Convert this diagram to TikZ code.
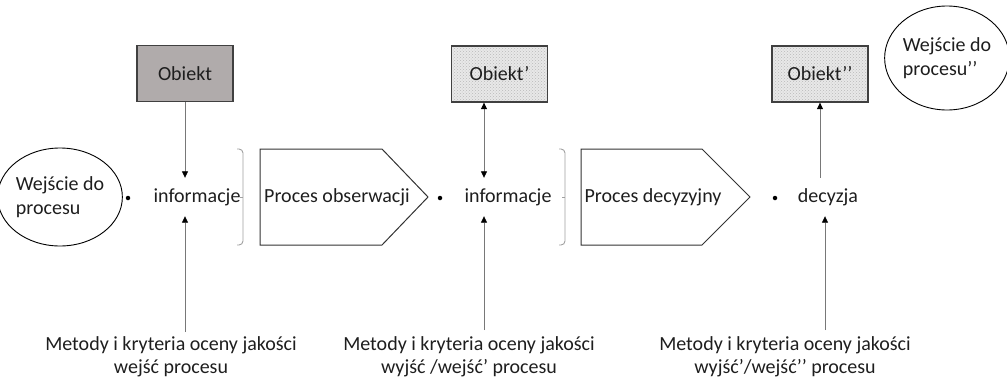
\documentclass[tikz,border=0pt]{standalone}
\usepackage{fontspec}
\setmainfont{Carlito}
\usetikzlibrary{arrows.meta,patterns,shapes.geometric}
\definecolor{objgray}{RGB}{176,171,171}
\definecolor{linegray}{RGB}{120,120,120}
\definecolor{brgray}{RGB}{160,160,160}
\definecolor{txtc}{RGB}{30,30,30}
\begin{document}
\begin{tikzpicture}[x=1pt,y=-1pt,
  mytip/.tip={Triangle[length=6.5pt,width=6pt,color=black]},
  txt/.style={font=\fontsize{20}{23.5}\selectfont, text=txtc, inner sep=0pt},
  objbox/.style={txt, draw=black!75, line width=1.3pt, minimum width=96pt, minimum height=56pt},
  stipple/.style={preaction={fill=gray!18}, pattern=crosshatch dots, pattern color=gray!55},
  infnode/.style={txt, minimum height=38pt},
  ell/.style={txt, draw=black, line width=0.9pt, ellipse, align=left, inner sep=0pt},
  pent/.style={draw=black!80, line width=1pt},
  brk/.style={draw=brgray, line width=0.9pt, rounded corners=4pt},
  dotn/.style={circle, fill=black, inner sep=0pt, minimum size=4.5pt},
  arr/.style={draw=linegray, line width=0.8pt, -{mytip}},
  darr/.style={draw=linegray, line width=0.8pt, {mytip}-{mytip}},
  lab/.style={txt, align=center}]
\useasboundingbox (0,0) rectangle (1007,386);

% objects
\node[objbox, fill=objgray] (ob1) at (185,73.5) {Obiekt};
\node[objbox, stipple] (ob2) at (499.5,74) {Obiekt’};
\node[objbox, stipple] (ob3) at (820,74) {Obiekt’’};

% ellipses
\node[ell, minimum width=110pt, minimum height=98pt] (e1) at (60,197) {Wejście do\\procesu};
\node[ell, minimum width=114pt, minimum height=104pt] (e2) at (947,58) {Wejście do\\procesu’’};

% dots
\node[dotn] (d1) at (128,198) {};
\node[dotn] (d2) at (440,198) {};
\node[dotn] (d3) at (775,198) {};

% info nodes
\node[infnode] (inf1) at (197,197) {informacje};
\node[infnode] (inf2) at (508,197) {informacje};
\node[infnode] (dec) at (828,197) {decyzja};

% brackets
\draw[brk] (237,149) -- (243,149) -- (243,245) -- (237,245);
\draw[draw=brgray, line width=0.9pt] (243,197) -- (239.5,197);
\draw[brk] (559,149) -- (565,149) -- (565,245) -- (559,245);
\draw[draw=brgray, line width=0.9pt] (565,197) -- (561.5,197);

% process pentagons
\draw[pent] (260,149) -- (382,149) -- (428,197) -- (382,245) -- (260,245) -- cycle;
\node[txt] (p1) at (337,197) {Proces obserwacji};
\draw[pent] (581,149) -- (702,149) -- (750,197) -- (702,245) -- (581,245) -- cycle;
\node[txt] (p2) at (653,197) {Proces decyzyjny};

% bottom labels
\node[lab] (lab1) at (171,357) {Metody i kryteria oceny jakości\\wejść procesu};
\node[lab] (lab2) at (469,357) {Metody i kryteria oceny jakości\\wyjść /wejść’ procesu};
\node[lab] (lab3) at (785,357) {Metody i kryteria oceny jakości\\wyjść’/wejść’’ procesu};

% connector tails
\coordinate (m1) at (185,332);
\coordinate (m2) at (484,330);
\coordinate (m3) at (825,330);

% connectors
\draw[arr] (ob1.south) -- (ob1.south |- inf1.north);
\draw[arr] (m1) -- (m1 |- inf1.south);
\draw[darr] (m2 |- ob2.south) -- (m2 |- inf2.north);
\draw[arr] (m2) -- (m2 |- inf2.south);
\draw[arr] (ob3.south |- dec.north) -- (ob3.south);
\draw[arr] (m3) -- (m3 |- dec.south);
\end{tikzpicture}
\end{document}
